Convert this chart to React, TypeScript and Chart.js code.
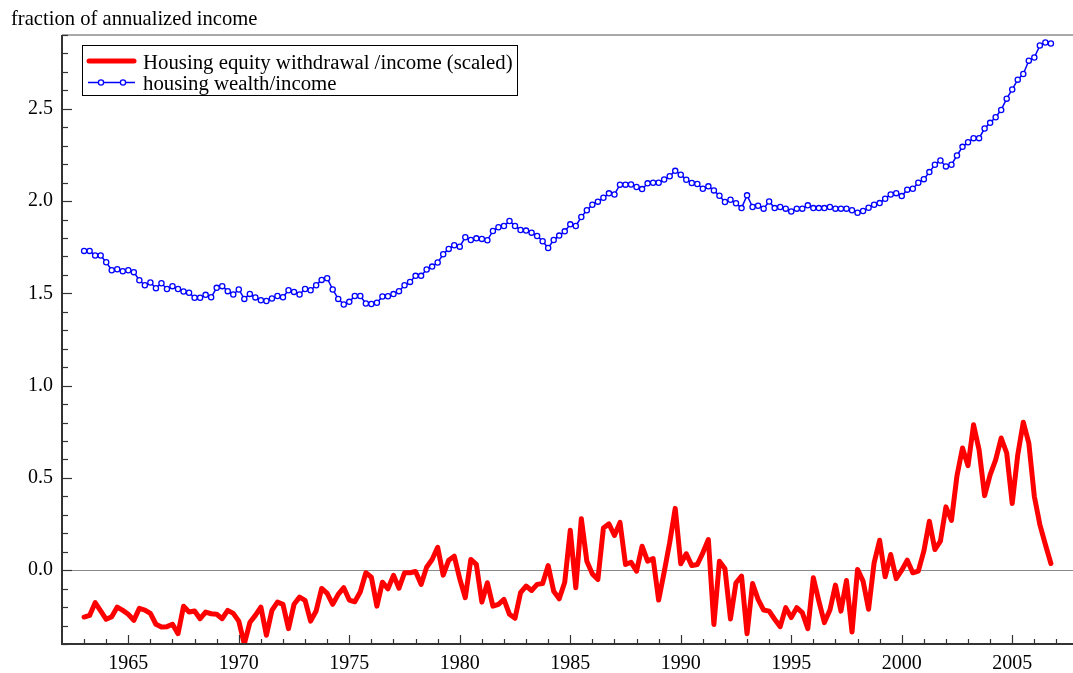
import React, { useEffect, useRef } from "react";
import { Chart, registerables } from "chart.js";

Chart.register(...registerables);

// ---- data (quarterly, starting 1963 Q1) ----
const START_YEAR = 1963;
const QUARTER = 0.25;

const SERIES_NAMES = [
  "Housing equity withdrawal /income (scaled)",
  "housing wealth/income",
];
const Y_AXIS_TITLE = "fraction of annualized income";

const X_TICK_LABELS = [1965, 1970, 1975, 1980, 1985, 1990, 1995, 2000, 2005];
const Y_TICK_LABELS = [0, 0.5, 1.0, 1.5, 2.0, 2.5];

const X_MIN = 1962;
const X_MAX = 2007.75;
const Y_MIN = -0.4;
const Y_MAX = 2.9;

const equityWithdrawal = [
  -0.254, -0.245, -0.176, -0.221, -0.266, -0.252, -0.2, -0.218, -0.239, -0.272,
  -0.207, -0.216, -0.234, -0.293, -0.308, -0.306, -0.293, -0.344, -0.195, -0.227,
  -0.221, -0.263, -0.227, -0.236, -0.239, -0.263, -0.218, -0.234, -0.276, -0.4,
  -0.284, -0.245, -0.2, -0.353, -0.218, -0.173, -0.185, -0.317, -0.185, -0.146,
  -0.164, -0.276, -0.221, -0.099, -0.126, -0.185, -0.131, -0.095, -0.162, -0.171,
  -0.117, -0.014, -0.038, -0.195, -0.065, -0.101, -0.028, -0.098, -0.014, -0.014,
  -0.007, -0.077, 0.016, 0.058, 0.124, -0.027, 0.054, 0.076, -0.047, -0.149,
  0.058, 0.031, -0.173, -0.068, -0.195, -0.185, -0.158, -0.239, -0.261, -0.122,
  -0.086, -0.11, -0.077, -0.072, 0.025, -0.114, -0.155, -0.065, 0.216, -0.095,
  0.279, 0.049, -0.02, -0.05, 0.229, 0.251, 0.188, 0.259, 0.031, 0.043,
  -0.005, 0.13, 0.049, 0.063, -0.162, -0.01, 0.15, 0.335, 0.035, 0.089,
  0.025, 0.031, 0.094, 0.166, -0.294, 0.049, 0.008, -0.264, -0.068, -0.032,
  -0.344, -0.072, -0.158, -0.216, -0.222, -0.266, -0.306, -0.203, -0.257, -0.203,
  -0.23, -0.317, -0.041, -0.168, -0.284, -0.216, -0.081, -0.222, -0.056, -0.335,
  0.004, -0.059, -0.212, 0.04, 0.162, -0.036, 0.085, -0.046, 0.0, 0.054,
  -0.014, -0.005, 0.103, 0.265, 0.112, 0.157, 0.343, 0.27, 0.512, 0.662,
  0.566, 0.788, 0.652, 0.404, 0.517, 0.598, 0.716, 0.635, 0.361, 0.625,
  0.802, 0.689, 0.4, 0.247, 0.139, 0.036,
];

const housingWealth = [
  1.73, 1.73, 1.705, 1.705, 1.669, 1.625, 1.631, 1.62, 1.625, 1.615,
  1.571, 1.544, 1.559, 1.528, 1.555, 1.524, 1.539, 1.524, 1.51, 1.503,
  1.476, 1.476, 1.492, 1.479, 1.53, 1.539, 1.512, 1.494, 1.521, 1.47,
  1.497, 1.478, 1.463, 1.459, 1.472, 1.486, 1.479, 1.517, 1.508, 1.494,
  1.524, 1.517, 1.544, 1.573, 1.582, 1.521, 1.47, 1.44, 1.454, 1.486,
  1.486, 1.445, 1.442, 1.449, 1.483, 1.484, 1.496, 1.512, 1.544, 1.562,
  1.595, 1.595, 1.629, 1.645, 1.667, 1.712, 1.741, 1.761, 1.753, 1.804,
  1.789, 1.798, 1.795, 1.788, 1.838, 1.858, 1.865, 1.892, 1.865, 1.843,
  1.84, 1.829, 1.811, 1.782, 1.746, 1.789, 1.813, 1.836, 1.874, 1.865,
  1.914, 1.95, 1.98, 1.997, 2.018, 2.042, 2.036, 2.089, 2.089, 2.09,
  2.076, 2.065, 2.096, 2.099, 2.099, 2.117, 2.135, 2.164, 2.143, 2.116,
  2.098, 2.093, 2.067, 2.08, 2.058, 2.029, 1.995, 2.007, 1.988, 1.962,
  2.031, 1.968, 1.975, 1.959, 1.998, 1.962, 1.968, 1.959, 1.944, 1.959,
  1.959, 1.977, 1.962, 1.962, 1.962, 1.968, 1.959, 1.959, 1.959, 1.95,
  1.937, 1.946, 1.964, 1.98, 1.989, 2.013, 2.036, 2.043, 2.027, 2.062,
  2.067, 2.099, 2.119, 2.157, 2.197, 2.22, 2.188, 2.197, 2.247, 2.294,
  2.319, 2.341, 2.341, 2.393, 2.424, 2.454, 2.494, 2.555, 2.605, 2.658,
  2.689, 2.761, 2.778, 2.843, 2.859, 2.854,
];

const RED = "#ff0000";
const BLUE = "#0000ff";
const FONT = "'Liberation Serif', 'Times New Roman', serif";

const toPoints = (vals: number[]) =>
  vals.map((v, i) => ({ x: START_YEAR + i * QUARTER, y: v }));

const decorPlugin = {
  id: "decor",
  beforeDatasetsDraw(chart: any) {
    const { ctx, chartArea: a, scales } = chart;
    const y0 = Math.round(scales.y.getPixelForValue(0)) + 0.5;
    ctx.save();
    ctx.strokeStyle = "#8a8a8a";
    ctx.lineWidth = 1;
    ctx.beginPath();
    ctx.moveTo(a.left, y0);
    ctx.lineTo(a.right, y0);
    ctx.stroke();
    ctx.restore();
  },
  afterDraw(chart: any) {
    const { ctx, chartArea: a, scales } = chart;
    const xs = scales.x;
    const ys = scales.y;
    ctx.save();
    // top frame line
    ctx.strokeStyle = "#555555";
    ctx.lineWidth = 1.2;
    ctx.beginPath();
    ctx.moveTo(a.left, a.top);
    ctx.lineTo(a.right, a.top);
    ctx.stroke();
    // left and bottom axes
    ctx.strokeStyle = "#333333";
    ctx.lineWidth = 2;
    ctx.beginPath();
    ctx.moveTo(a.left, a.top);
    ctx.lineTo(a.left, a.bottom);
    ctx.lineTo(a.right, a.bottom);
    ctx.stroke();
    // inward ticks
    ctx.lineWidth = 1.2;
    for (let k = -4; k <= 29; k++) {
      const py = Math.round(ys.getPixelForValue(k / 10)) + 0.5;
      const len = k % 5 === 0 ? 10 : 6;
      ctx.beginPath();
      ctx.moveTo(a.left, py);
      ctx.lineTo(a.left + len, py);
      ctx.stroke();
    }
    for (let yr = 1963; yr <= 2007; yr++) {
      const px = Math.round(xs.getPixelForValue(yr)) + 0.5;
      const len = yr % 5 === 0 ? 9 : 5;
      ctx.beginPath();
      ctx.moveTo(px, a.bottom);
      ctx.lineTo(px, a.bottom - len);
      ctx.stroke();
    }
    // title
    ctx.fillStyle = "#000";
    ctx.font = `20.6px ${FONT}`;
    ctx.textBaseline = "alphabetic";
    ctx.textAlign = "left";
    ctx.fillText(Y_AXIS_TITLE, 11, 25);
    // legend
    const ds = chart.data.datasets;
    ctx.fillStyle = "#fff";
    ctx.fillRect(83, 46, 435, 49);
    ctx.strokeStyle = "#000";
    ctx.lineWidth = 1;
    ctx.strokeRect(82.5, 45.5, 435, 50);
    // red sample
    ctx.strokeStyle = ds[0].borderColor;
    ctx.lineWidth = ds[0].borderWidth;
    ctx.lineCap = "round";
    ctx.beginPath();
    ctx.moveTo(89, 61);
    ctx.lineTo(134, 61);
    ctx.stroke();
    // blue sample
    ctx.lineCap = "butt";
    ctx.strokeStyle = ds[1].borderColor;
    ctx.lineWidth = ds[1].borderWidth;
    ctx.beginPath();
    ctx.moveTo(88, 82.5);
    ctx.lineTo(135, 82.5);
    ctx.stroke();
    for (const mx of [101, 123]) {
      ctx.beginPath();
      ctx.arc(mx, 82.5, ds[1].pointRadius, 0, Math.PI * 2);
      ctx.fillStyle = ds[1].pointBackgroundColor;
      ctx.fill();
      ctx.lineWidth = ds[1].pointBorderWidth;
      ctx.stroke();
    }
    ctx.fillStyle = "#000";
    ctx.font = `20.8px ${FONT}`;
    ctx.fillText(ds[0].label, 143, 69);
    ctx.fillText(ds[1].label, 143, 90);
    ctx.restore();
  },
};

export default function App() {
  const ref = useRef<HTMLCanvasElement>(null);
  useEffect(() => {
    const canvas = ref.current;
    if (!canvas) return;
    const tickFont = { family: FONT, size: 20 };
    const chart = new Chart(canvas, {
      type: "line",
      data: {
        datasets: [
          {
            label: SERIES_NAMES[0],
            data: toPoints(equityWithdrawal),
            borderColor: RED,
            backgroundColor: RED,
            borderWidth: 5,
            pointRadius: 0,
            tension: 0,
            borderJoinStyle: "round",
            borderCapStyle: "round",
          },
          {
            label: SERIES_NAMES[1],
            data: toPoints(housingWealth),
            borderColor: BLUE,
            backgroundColor: BLUE,
            borderWidth: 1.5,
            pointRadius: 2.6,
            pointBorderWidth: 1.3,
            pointBorderColor: BLUE,
            pointBackgroundColor: "#ffffff",
            tension: 0,
          },
        ],
      },
      plugins: [decorPlugin],
      options: {
        animation: false,
        responsive: false,
        devicePixelRatio: 1,
        layout: {
          autoPadding: false,
          padding: { top: 35, left: 0, right: 0, bottom: 0 },
        },
        plugins: {
          legend: { display: false },
          tooltip: { enabled: false },
        },
        scales: {
          x: {
            type: "linear",
            min: X_MIN,
            max: X_MAX,
            grid: { display: false, drawTicks: false },
            border: { display: false },
            ticks: {
              font: tickFont,
              color: "#000",
              padding: 8,
              maxRotation: 0,
              autoSkip: false,
              callback: (v: any) => String(v),
            },
            afterBuildTicks: (s: any) => {
              s.ticks = X_TICK_LABELS.map((v) => ({ value: v }));
            },
            afterFit: (s: any) => {
              s.height = 29;
              s.paddingLeft = 0;
              s.paddingRight = 0;
            },
          },
          y: {
            type: "linear",
            min: Y_MIN,
            max: Y_MAX,
            grid: { display: false, drawTicks: false },
            border: { display: false },
            ticks: {
              font: tickFont,
              color: "#000",
              padding: 9,
              autoSkip: false,
              callback: (v: any) => Number(v).toFixed(1),
            },
            afterBuildTicks: (s: any) => {
              s.ticks = Y_TICK_LABELS.map((v) => ({ value: v }));
            },
            afterFit: (s: any) => {
              s.width = 62;
              s.paddingTop = 0;
              s.paddingBottom = 0;
            },
          },
        },
      },
    } as any);
    return () => chart.destroy();
  }, []);
  return (
    <div
      style={{
        position: "absolute",
        left: 0,
        top: 0,
        width: 1073,
        height: 673,
        background: "#fff",
      }}
    >
      <canvas
        ref={ref}
        width={1073}
        height={673}
        style={{ display: "block", width: 1073, height: 673 }}
      />
    </div>
  );
}
